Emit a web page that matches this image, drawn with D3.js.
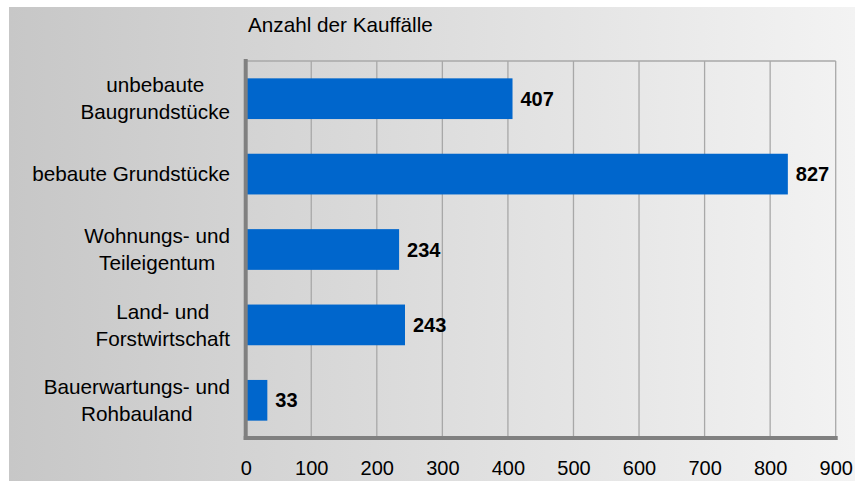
<!DOCTYPE html>
<html>
<head>
<meta charset="utf-8">
<script src="https://cdn.jsdelivr.net/npm/d3@7"></script>
<style>
  html, body { margin: 0; padding: 0; background: #fff; }
  svg { display: block; }
  text { font-family: "Liberation Sans", Arial, sans-serif; }
</style>
</head>
<body>
<svg id="chart" width="855" height="481"></svg>
<script>
const categories = [
  ["unbebaute", "Baugrundstücke"],
  ["bebaute Grundstücke"],
  ["Wohnungs- und", "Teileigentum"],
  ["Land- und", "Forstwirtschaft"],
  ["Bauerwartungs- und", "Rohbauland"]
];
const values = [407, 827, 234, 243, 33];
const tickValues = [0, 100, 200, 300, 400, 500, 600, 700, 800, 900];
const axisTitle = "Anzahl der Kauffälle";

const W = 855, H = 481;
const svg = d3.select("#chart");

// background gradient
const defs = svg.append("defs");
const grad = defs.append("linearGradient").attr("id", "bg")
  .attr("x1", "0%").attr("x2", "100%").attr("y1", "0%").attr("y2", "0%");
grad.append("stop").attr("offset", "0%").attr("stop-color", "#c7c7c7");
grad.append("stop").attr("offset", "100%").attr("stop-color", "#f3f3f3");
svg.append("rect").attr("x", 9).attr("y", 7).attr("width", W - 9).attr("height", H - 7)
  .attr("fill", "url(#bg)");

const plot = { left: 245.7, right: 835.7, top: 61, bottom: 438 };

const x = d3.scaleLinear().domain([0, 900]).range([plot.left, plot.right]);
const y = d3.scaleBand().domain(d3.range(categories.length))
  .range([plot.top, plot.bottom]).paddingInner(0.46).paddingOuter(0.23);

// grid lines
svg.append("g").selectAll("line").data(tickValues.filter(d => d > 0)).join("line")
  .attr("x1", d => x(d)).attr("x2", d => x(d))
  .attr("y1", plot.top).attr("y2", plot.bottom)
  .attr("stroke", "#a8a8a8").attr("stroke-width", 1.3);
// top border
svg.append("line").attr("x1", plot.left).attr("x2", plot.right)
  .attr("y1", plot.top).attr("y2", plot.top)
  .attr("stroke", "#a8a8a8").attr("stroke-width", 1.3);

// bars
svg.append("g").selectAll("rect").data(values).join("rect")
  .attr("x", x(0))
  .attr("y", (d, i) => y(i))
  .attr("width", d => x(d) - x(0))
  .attr("height", y.bandwidth())
  .attr("fill", "#0066cc");

// value labels
svg.append("g").selectAll("text").data(values).join("text")
  .attr("x", d => x(d) + 8)
  .attr("y", (d, i) => y(i) + y.bandwidth() / 2)
  .attr("dy", "0.35em")
  .attr("font-size", 20).attr("font-weight", "bold").attr("fill", "#000")
  .text(d => d);

// axes lines
svg.append("line").attr("x1", plot.left).attr("x2", plot.left)
  .attr("y1", plot.top - 2).attr("y2", plot.bottom + 2)
  .attr("stroke", "#808080").attr("stroke-width", 4);
svg.append("line").attr("x1", plot.left - 2).attr("x2", plot.right + 2)
  .attr("y1", plot.bottom).attr("y2", plot.bottom)
  .attr("stroke", "#808080").attr("stroke-width", 4);

// x tick labels via axis
const xAxis = d3.axisBottom(x).tickValues(tickValues).tickSize(0).tickPadding(0).tickFormat(d3.format("d"));
const gx = svg.append("g").attr("transform", `translate(0,${plot.bottom})`).call(xAxis);
gx.select(".domain").remove();
gx.selectAll("text").attr("font-size", 20).attr("fill", "#000")
  .attr("font-family", "'Liberation Sans', Arial, sans-serif")
  .attr("y", 37).attr("dy", null);

// category labels (centered multi-line, right-aligned block)
const lineH = 27;
const catG = svg.append("g");
categories.forEach((lines, i) => {
  const cy = y(i) + y.bandwidth() / 2;
  const t = catG.append("text").attr("font-size", 20.7).attr("fill", "#000")
    .attr("text-anchor", "middle");
  lines.forEach((ln, j) => {
    t.append("tspan")
      .attr("y", cy + (j - (lines.length - 1) / 2) * lineH)
      .attr("dy", "0.35em")
      .text(ln);
  });
  let maxW = 0;
  t.selectAll("tspan").each(function () { maxW = Math.max(maxW, this.getComputedTextLength()); });
  const cx = 230 - maxW / 2;
  t.selectAll("tspan").attr("x", cx);
});

// title
svg.append("text").attr("x", 248).attr("y", 32)
  .attr("font-size", 20.7).attr("fill", "#000").text(axisTitle);
</script>
</body>
</html>
